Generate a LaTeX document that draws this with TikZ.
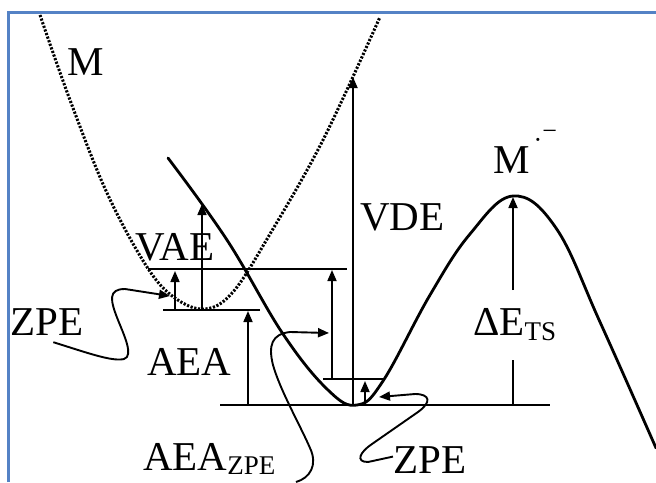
\documentclass[tikz,border=0pt]{standalone}
\usepackage{fontspec}
\setmainfont{Liberation Serif}
\usetikzlibrary{arrows.meta}
\definecolor{frameblue}{RGB}{84,130,197}
\begin{document}
\begin{tikzpicture}[x=1pt,y=-1pt,
  lbl/.style={anchor=base west,inner sep=0pt,font=\fontsize{41}{45}\selectfont},
  solidcurve/.style={line width=2.8pt,line cap=round,line join=round},
  dotcurve/.style={line width=3pt,dash pattern=on 2.2pt off 1.6pt},
  level/.style={line width=1.7pt},
  varrow/.style={line width=1.7pt,-{Triangle[length=11pt,width=9pt]}},
  squig/.style={line width=1.9pt,-{Triangle[length=11pt,width=9pt]}}]
\useasboundingbox (0,0) rectangle (656,482);
% frame
\draw[frameblue,line width=3pt] (8,482) -- (8,12) -- (656,12);
% neutral (dotted) potential curve
\draw[dotcurve] plot[smooth,tension=0.6] coordinates {(40,15) (70,100) (107,193) (147,267) (175,298) (205,309) (233,292) (270,234) (323,140) (380,17)};
% anion (solid) potential curve
\draw[solidcurve] plot[smooth,tension=0.65] coordinates {(168,158) (227,240) (283,334) (328,390) (357,405) (383,381) (430,295) (470,234) (513,196) (556,228) (600,322) (656,448)};
% levels
\coordinate (L1a) at (148,269); \coordinate (L1b) at (347,269);
\coordinate (L2a) at (163,310); \coordinate (L2b) at (260,310);
\coordinate (L3a) at (323,379); \coordinate (L3b) at (383,379);
\coordinate (B0a) at (220,405); \coordinate (B0b) at (550,405);
\draw[level] (L1a) -- (L1b);
\draw[level] (L2a) -- (L2b);
\draw[level] (L3a) -- (L3b);
\draw[level] (B0a) -- (B0b);
% vertical arrows
\coordinate (vaeS) at (202,310); \coordinate (vaeE) at (202,204);
\coordinate (nzS) at (175,310); \coordinate (nzE) at (175,271);
\coordinate (aeaS) at (248,405); \coordinate (aeaE) at (248,311);
\coordinate (azS) at (332,379); \coordinate (azE) at (332,270);
\coordinate (vdeS) at (353,405); \coordinate (vdeE) at (353,77);
\coordinate (zaS) at (365,405); \coordinate (zaE) at (365,381);
\coordinate (tsS) at (513,405); \coordinate (tsM1) at (513,360);
\coordinate (tsM2) at (513,290); \coordinate (tsE) at (513,197);
\draw[varrow] (vaeS) -- (vaeE);
\draw[varrow] (nzS) -- (nzE);
\draw[varrow] (aeaS) -- (aeaE);
\draw[varrow] (azS) -- (azE);
\draw[varrow] (vdeS) -- (vdeE);
\draw[varrow] (zaS) -- (zaE);
\draw[level] (tsS) -- (tsM1);
\draw[varrow] (tsM2) -- (tsE);
% labels
\node[lbl] (M) at (67,75) {M};
\node[lbl] (Man) at (493,173) {M\kern4pt\raisebox{25pt}{\fontsize{26}{26}\selectfont ·}\kern0pt\raisebox{34pt}{\fontsize{26}{26}\selectfont −}};
\node[lbl] (VDE) at (360,230) {VDE};
\node[lbl] (VAE) at (135,260) {VAE};
\node[lbl] (AEA) at (147,375) {AEA};
\node[lbl] (dETS) at (473,335) {ΔE\raisebox{-5pt}{\fontsize{27}{27}\selectfont TS}};
\node[lbl] (ZPEl) at (10,335) {ZPE};
\node[lbl] (ZPEr) at (393,473) {ZPE};
\node[lbl] (AEAZ) at (143,470) {AEA\raisebox{-4pt}{\fontsize{27}{27}\selectfont ZPE}};
% squiggle connectors
\coordinate (zlTip) at (170,296);
\coordinate (azTip) at (329,333);
\coordinate (zrTip) at (379,397);
\coordinate (azStart) at (296,482);
\draw[squig] (ZPEl.south east) ++(-30,7) .. controls (85,352) and (112,362) .. (124,359) .. controls (134,356) and (124,335) .. (118,320) .. controls (110,300) and (108,289) .. (125,289) -- (zlTip);
\draw[squig] (azStart) .. controls (310,478) and (318,465) .. (310,448) .. controls (300,425) and (280,390) .. (273,365) .. controls (268,345) and (272,334) .. (290,332) -- (azTip);
\draw[squig] (ZPEr.west) ++(0,-3) -- (368,462) .. controls (355,462) and (360,452) .. (372,444) -- (418,412) .. controls (432,402) and (430,394) .. (415,394) -- (zrTip);
\end{tikzpicture}
\end{document}
